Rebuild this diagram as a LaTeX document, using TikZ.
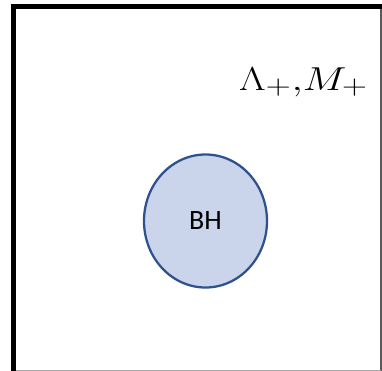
\documentclass[tikz,border=0pt]{standalone}
\usepackage{fontspec}
\usetikzlibrary{shapes.geometric}
\newfontfamily\calibri{Carlito}
\definecolor{bhfill}{HTML}{CAD5EC}
\definecolor{bhline}{HTML}{2F528F}
\begin{document}
\begin{tikzpicture}[x=0.75pt,y=-0.75pt,
  frame/.style={line width=3.75pt,black},
  bh/.style={ellipse,draw=bhline,fill=bhfill,line width=1.7pt,minimum width=123*0.75pt,minimum height=133*0.75pt,inner sep=0pt,font=\calibri\fontsize{21}{24}\selectfont},
  lbl/.style={anchor=base,inner sep=0pt,font=\fontsize{24.88}{30}\selectfont}]
\useasboundingbox (0,0) rectangle (382,371);
\fill[white] (0,0) rectangle (382,371);
\draw[frame] (13.5,371) -- (13.5,6.5) -- (382,6.5);
\draw[line width=1.2pt,black!65] (381,9) -- (381,371);
\draw[line width=1pt,black!35] (16,370.3) -- (381,370.3);
\node[bh] (bh) at (205.5,221) {BH};
\node[lbl] (lm) at (303.5,90) {\scalebox{1.25}[1.0]{$\Lambda_+{,}M_+$}};
\end{tikzpicture}
\end{document}
